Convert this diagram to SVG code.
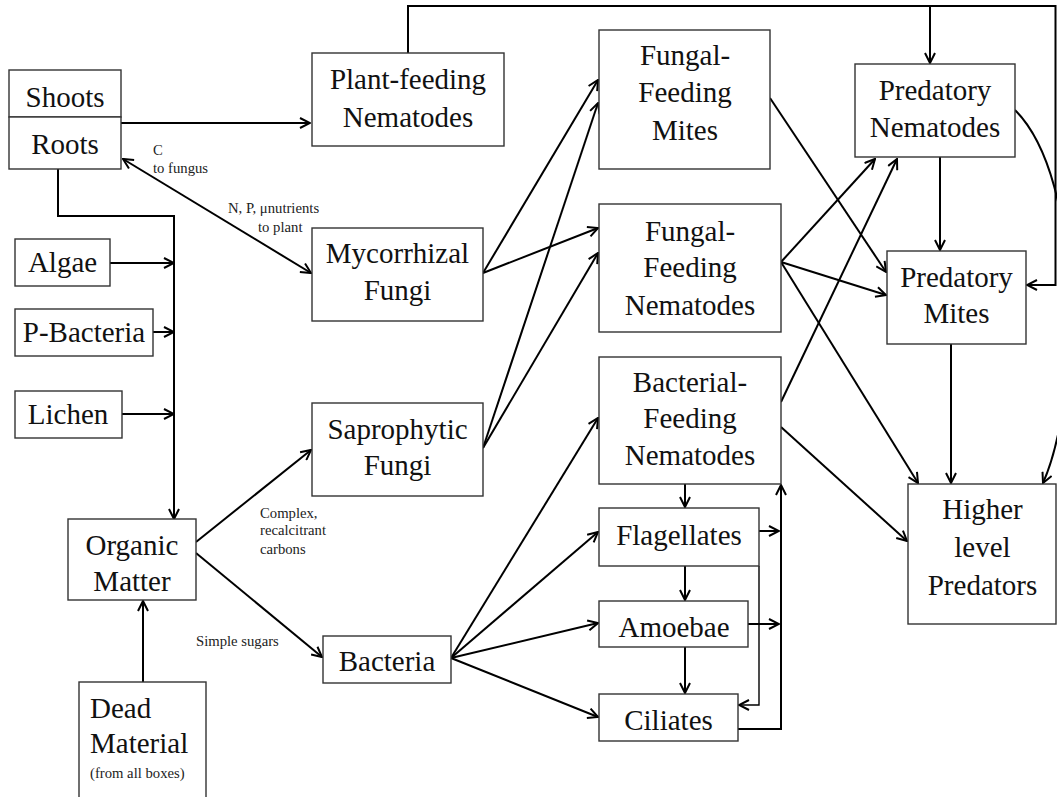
<svg xmlns="http://www.w3.org/2000/svg" width="1057" height="797" viewBox="0 0 1057 797">
<style>
.box{fill:#fff;stroke:#333;stroke-width:1.4}
.t{font-family:"Liberation Serif","Times New Roman",serif;font-size:29px;fill:#111;text-anchor:middle}
.tl{font-family:"Liberation Serif","Times New Roman",serif;font-size:29px;fill:#111}
.s{font-family:"Liberation Serif","Times New Roman",serif;font-size:14.7px;fill:#222}
.c{fill:none;stroke:#000;stroke-width:2}
.a{marker-end:url(#ah)}
.thin{fill:none;stroke:#000;stroke-width:1.4}
</style>
<defs>
<marker id="ah" viewBox="0 0 12 12" refX="11" refY="6" markerWidth="12" markerHeight="12" markerUnits="userSpaceOnUse" orient="auto-start-reverse">
<path d="M1,1 L11,6 L1,11" fill="none" stroke="#000" stroke-width="2"/>
</marker>
</defs>
<rect width="1057" height="797" fill="#fff"/>

<g id="connectors">
<path class="c a" d="M121,123 H310"/>
<path class="c" d="M123,159 L311,273" marker-start="url(#ah)" marker-end="url(#ah)"/>
<path class="c a" d="M58,169 V216 H174 V519"/>
<path class="c a" d="M110,263 H174"/>
<path class="c a" d="M153,332 H174"/>
<path class="c a" d="M122,414 H174"/>
<path class="c a" d="M143,682 V601"/>
<path class="c a" d="M196,542 L311,450"/>
<path class="c a" d="M196,553 L322,657"/>
<path class="c a" d="M483,273 L598,80"/>
<path class="c a" d="M483,273 L598,228"/>
<path class="c a" d="M483,448 L598,103"/>
<path class="c a" d="M483,448 L598,253"/>
<path class="c a" d="M451,658 L598,418"/>
<path class="c a" d="M451,658 L598,532"/>
<path class="c a" d="M451,658 L598,623"/>
<path class="c a" d="M451,658 L598,717"/>
<path class="c a" d="M685,473 V507"/>
<path class="c a" d="M685,566 V600"/>
<path class="c a" d="M685,647 V693"/>
<path class="c a" d="M759,531 H779"/>
<path class="c a" d="M748,624 H779"/>
<path class="thin a" d="M759,566 V705 H739"/>
<path class="c a" d="M738,729 H781 V485"/>
<path class="c a" d="M408,53 V6 H1055.5 V285 H1027"/>
<path class="c a" d="M930,6 V63"/>
<path class="c a" d="M770,98 L886,272"/>
<path class="c a" d="M781,262 L875,159"/>
<path class="c a" d="M781,262 L886,295"/>
<path class="c a" d="M781,262 L918,483"/>
<path class="c a" d="M781,402 L897,159"/>
<path class="c a" d="M781,427 L907,541"/>
<path class="c a" d="M940,157 V250"/>
<path class="c a" d="M951,344 V483"/>
<path class="c a" d="M1015,110 C1085,180 1080,400 1043,483"/>
</g>

<g id="shoots"><rect class="box" x="9" y="70" width="112" height="47"/><text class="t" x="65" y="107">Shoots</text></g>
<g id="roots"><rect class="box" x="9" y="117" width="112" height="52"/><text class="t" x="65" y="154">Roots</text></g>
<g id="algae"><rect class="box" x="15" y="239" width="95" height="47"/><text class="t" x="62.5" y="272">Algae</text></g>
<g id="p-bacteria"><rect class="box" x="15" y="309" width="138" height="47"/><text class="t" x="84" y="342">P-Bacteria</text></g>
<g id="lichen"><rect class="box" x="15" y="391" width="107" height="47"/><text class="t" x="68" y="424">Lichen</text></g>
<g id="organic-matter"><rect class="box" x="68" y="519" width="128" height="81"/><text class="t" x="132" y="555">Organic</text><text class="t" x="132" y="591">Matter</text></g>
<g id="dead-material"><rect class="box" x="79" y="682" width="127" height="130"/><text class="tl" x="90" y="718">Dead</text><text class="tl" x="90" y="753">Material</text><text class="s" x="90" y="778">(from all boxes)</text></g>
<g id="plant-feeding-nematodes"><rect class="box" x="312" y="53" width="192" height="93"/><text class="t" x="408" y="89">Plant-feeding</text><text class="t" x="408" y="127">Nematodes</text></g>
<g id="mycorrhizal-fungi"><rect class="box" x="312" y="228" width="171" height="93"/><text class="t" x="397.5" y="263">Mycorrhizal</text><text class="t" x="397.5" y="300">Fungi</text></g>
<g id="saprophytic-fungi"><rect class="box" x="312" y="403" width="171" height="93"/><text class="t" x="397.5" y="439">Saprophytic</text><text class="t" x="397.5" y="475">Fungi</text></g>
<g id="bacteria"><rect class="box" x="323" y="636" width="128" height="47"/><text class="t" x="387" y="671">Bacteria</text></g>
<g id="fungal-feeding-mites"><rect class="box" x="599" y="30" width="171" height="139"/><text class="t" x="685" y="65">Fungal-</text><text class="t" x="685" y="102">Feeding</text><text class="t" x="685" y="140">Mites</text></g>
<g id="fungal-feeding-nematodes"><rect class="box" x="599" y="204" width="182" height="128"/><text class="t" x="690" y="241">Fungal-</text><text class="t" x="690" y="277">Feeding</text><text class="t" x="690" y="315">Nematodes</text></g>
<g id="bacterial-feeding-nematodes"><rect class="box" x="599" y="357" width="182" height="127"/><text class="t" x="690" y="392">Bacterial-</text><text class="t" x="690" y="428">Feeding</text><text class="t" x="690" y="465">Nematodes</text></g>
<g id="flagellates"><rect class="box" x="599" y="508" width="160" height="58"/><text class="t" x="679" y="545">Flagellates</text></g>
<g id="amoebae"><rect class="box" x="599" y="601" width="149" height="46"/><text class="t" x="674" y="637">Amoebae</text></g>
<g id="ciliates"><rect class="box" x="599" y="694" width="139" height="47"/><text class="t" x="668.5" y="730">Ciliates</text></g>
<g id="predatory-nematodes"><rect class="box" x="855" y="64" width="160" height="93"/><text class="t" x="935" y="100">Predatory</text><text class="t" x="935" y="137">Nematodes</text></g>
<g id="predatory-mites"><rect class="box" x="887" y="251" width="139" height="93"/><text class="t" x="956.5" y="287">Predatory</text><text class="t" x="956.5" y="323">Mites</text></g>
<g id="higher-level-predators"><rect class="box" x="908" y="484" width="148" height="140"/><text class="t" x="982.5" y="519">Higher</text><text class="t" x="982.5" y="557">level</text><text class="t" x="982.5" y="595">Predators</text></g>

<g id="labels">
<text class="s" x="153" y="155">C</text>
<text class="s" x="153" y="173">to fungus</text>
<text class="s" x="228" y="213">N, P, μnutrients</text>
<text class="s" x="258" y="232">to plant</text>
<text class="s" x="260" y="518">Complex,</text>
<text class="s" x="260" y="535">recalcitrant</text>
<text class="s" x="260" y="554">carbons</text>
<text class="s" x="196" y="646">Simple sugars</text>
</g>
</svg>
